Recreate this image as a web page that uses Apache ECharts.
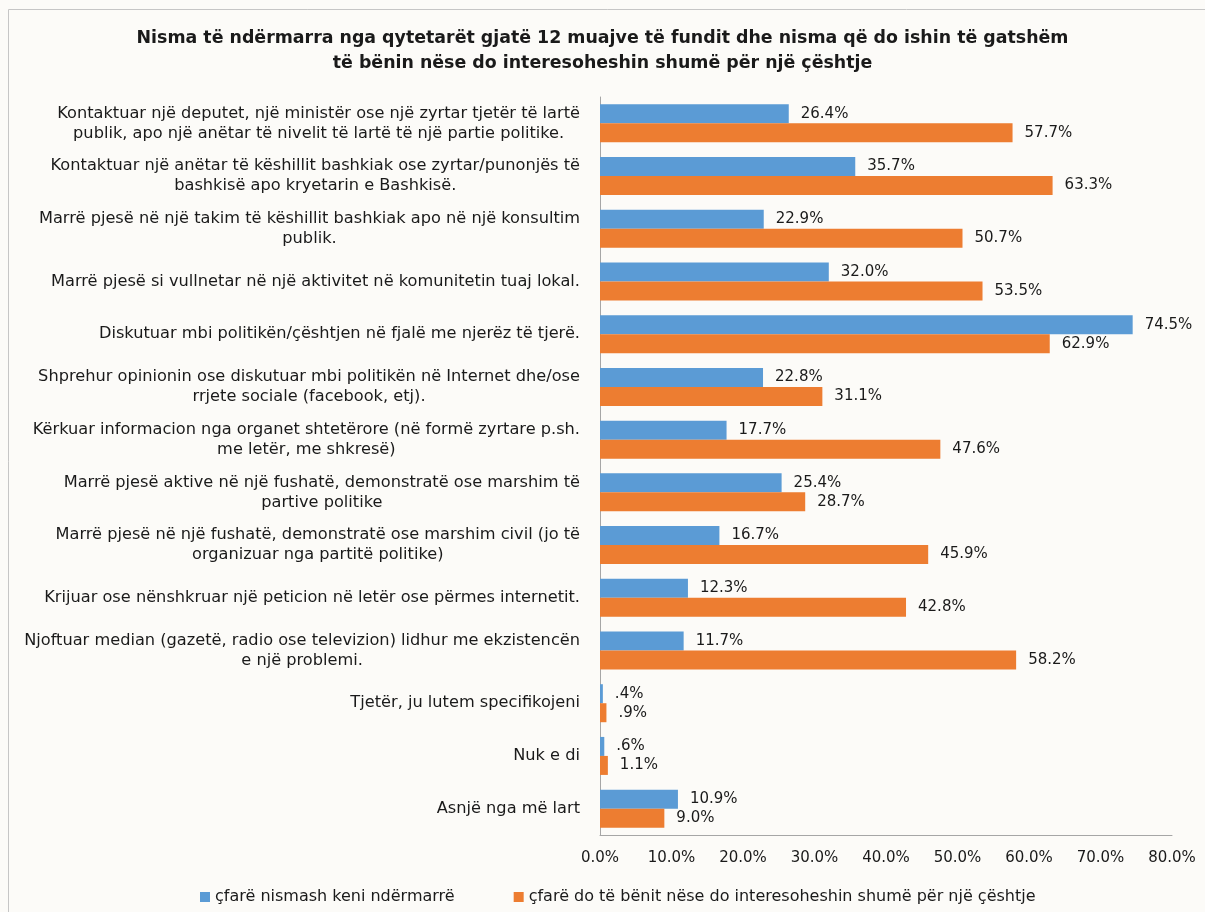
<!DOCTYPE html>
<html><head><meta charset="utf-8">
<script src="https://cdn.jsdelivr.net/npm/echarts@6/dist/echarts.min.js"></script>
<style>html,body{margin:0;padding:0;background:#fcfbf8}#c{width:1205px;height:912px}</style>
</head><body><div id="c"></div>
<script>
const titleText = "Nisma të ndërmarra nga qytetarët gjatë 12 muajve të fundit dhe nisma që do ishin të gatshëm\ntë bënin nëse do interesoheshin shumë për një çështje";
const categories = [
  "Kontaktuar një deputet, një ministër ose një zyrtar tjetër të lartë\npublik, apo një anëtar të nivelit të lartë të një partie politike.",
  "Kontaktuar një anëtar të këshillit bashkiak ose zyrtar/punonjës të\nbashkisë apo kryetarin e Bashkisë.",
  "Marrë pjesë në një takim të këshillit bashkiak apo në një konsultim\npublik.",
  "Marrë pjesë si vullnetar në një aktivitet në komunitetin tuaj lokal.",
  "Diskutuar mbi politikën/çështjen në fjalë me njerëz të tjerë.",
  "Shprehur opinionin ose diskutuar mbi politikën në Internet dhe/ose\nrrjete sociale (facebook, etj).",
  "Kërkuar informacion nga organet shtetërore (në formë zyrtare p.sh.\nme letër, me shkresë)",
  "Marrë pjesë aktive në një fushatë, demonstratë ose marshim të\npartive politike",
  "Marrë pjesë në një fushatë, demonstratë ose marshim civil (jo të\norganizuar nga partitë politike)",
  "Krijuar ose nënshkruar një peticion në letër ose përmes internetit.",
  "Njoftuar median (gazetë, radio ose televizion) lidhur me ekzistencën\ne një problemi.",
  "Tjetër, ju lutem specifikojeni",
  "Nuk e di",
  "Asnjë nga më lart"
];
const seriesNames = ["çfarë nismash keni ndërmarrë", "çfarë do të bënit nëse do interesoheshin shumë për një çështje"];
const taken = [26.4, 35.7, 22.9, 32.0, 74.5, 22.8, 17.7, 25.4, 16.7, 12.3, 11.7, 0.4, 0.6, 10.9];
const wouldDo = [57.7, 63.3, 50.7, 53.5, 62.9, 31.1, 47.6, 28.7, 45.9, 42.8, 58.2, 0.9, 1.1, 9.0];
const xTicks = [0, 10, 20, 30, 40, 50, 60, 70, 80];

const FONT = "DejaVu Sans";
const TXT = "#1a1a1a";
function pct(v){ let s = v.toFixed(1); if (s.startsWith("0.")) s = s.slice(1); return s + "%"; }

const chart = echarts.init(document.getElementById('c'));
const labelCfg = {show:true, position:'right', distance:12, color:TXT, fontFamily:FONT, fontSize:15,
  formatter: p => pct(p.value)};
chart.setOption({
  backgroundColor:'#fcfbf8',
  animation:false,
  graphic:[{type:'rect', shape:{x:8.5,y:9.5,width:1300,height:1000}, style:{fill:'none', stroke:'#c6c6c6', lineWidth:1}}],
  title:{text:titleText, left:'center', top:21, textStyle:{fontFamily:FONT, fontSize:17.4, fontWeight:'bold', color:TXT, lineHeight:25}},
  legend:{bottom:2, left:195, itemGap:59, itemWidth:10, itemHeight:10, icon:'rect',
    textStyle:{fontFamily:FONT, fontSize:16, color:TXT}, data:seriesNames},
  grid:{left:600, right:33, top:97, bottom:77, containLabel:false},
  xAxis:{type:'value', min:xTicks[0], max:xTicks[xTicks.length-1], interval:10,
    axisLine:{show:true, lineStyle:{color:'#a6a6a6'}}, axisTick:{show:false}, splitLine:{show:false},
    axisLabel:{margin:16, color:TXT, fontFamily:FONT, fontSize:15, formatter: v => v.toFixed(1)+"%"}},
  yAxis:{type:'category', inverse:true, data:categories,
    axisLine:{show:true, lineStyle:{color:'#a6a6a6'}}, axisTick:{show:false},
    axisLabel:{margin:20, color:TXT, fontFamily:FONT, fontSize:16.2, lineHeight:20,
      formatter: v => v.split("\n").map(l => "{c|"+l+"}").join("\n"),
      rich:{c:{align:'center', fontFamily:FONT, fontSize:16.2, lineHeight:20, color:TXT}}}},
  series:[
    {name:seriesNames[0], type:'bar', data:taken, barWidth:19, barGap:'0%', itemStyle:{color:'#5b9bd5'}, label:labelCfg},
    {name:seriesNames[1], type:'bar', data:wouldDo, barWidth:19, barGap:'0%', itemStyle:{color:'#ed7d31'}, label:labelCfg}
  ]
});
</script></body></html>
